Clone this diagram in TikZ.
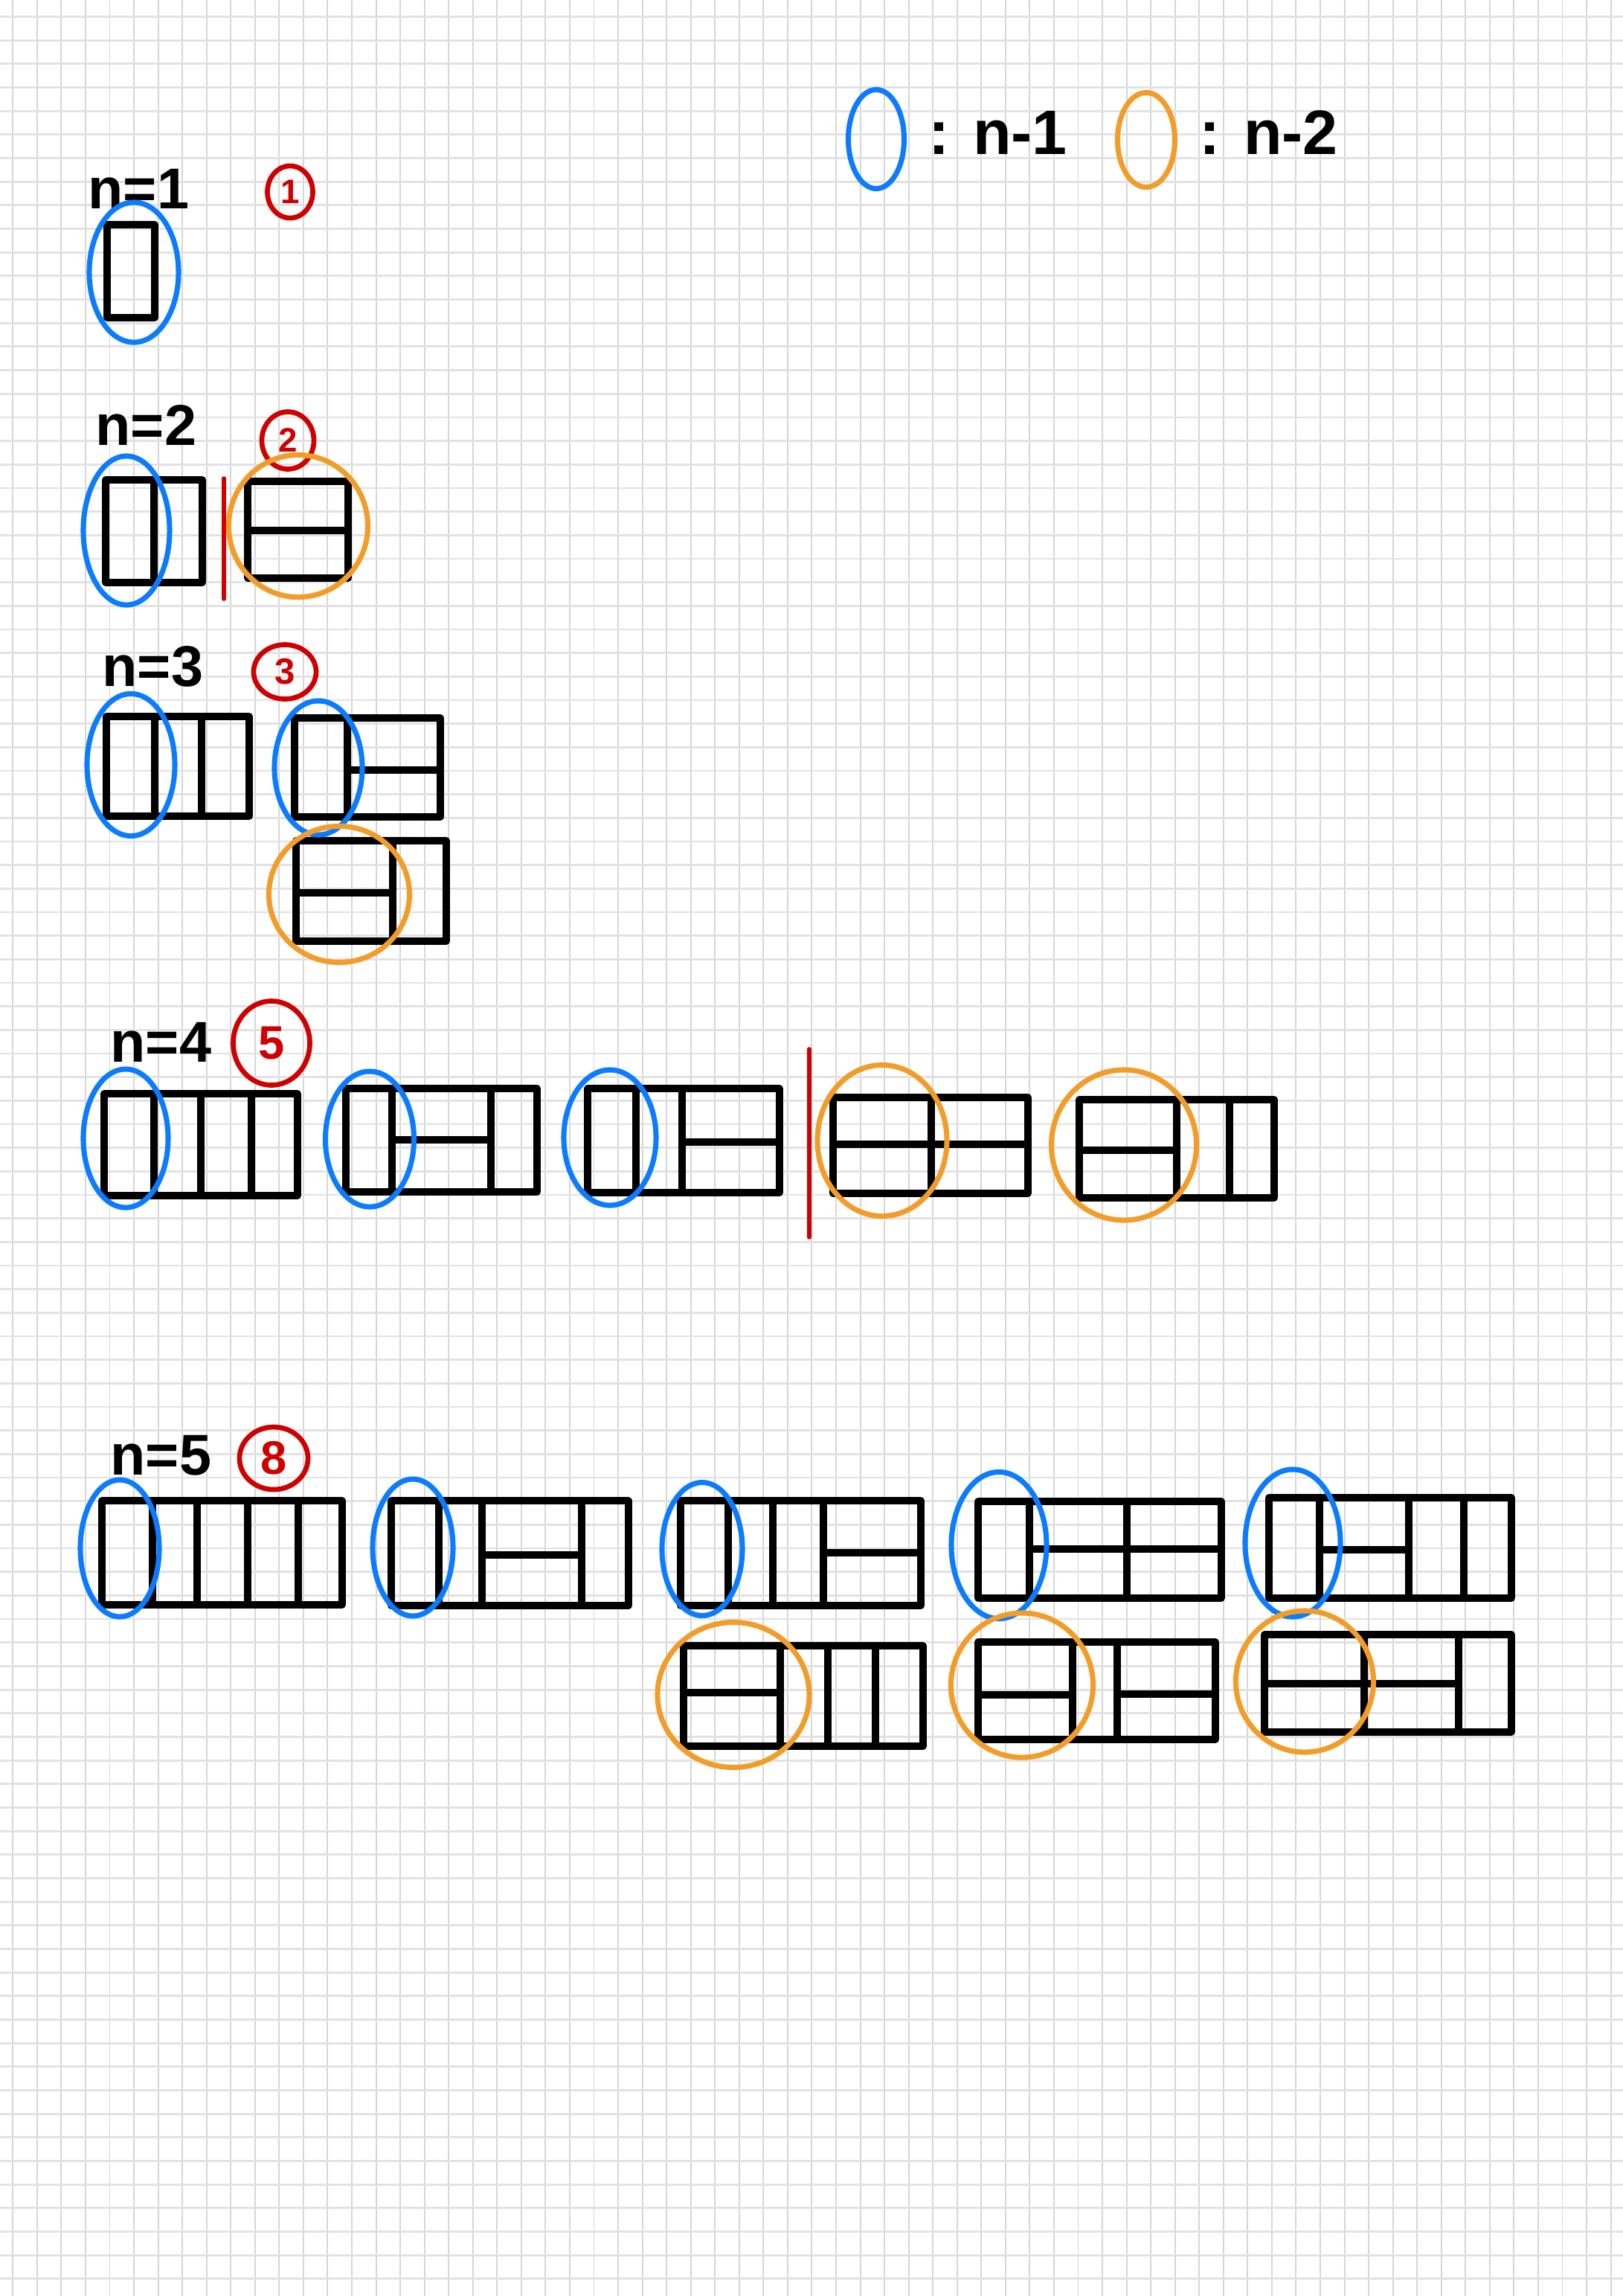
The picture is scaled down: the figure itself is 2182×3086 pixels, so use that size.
\documentclass[tikz,border=0pt]{standalone}
\usepackage{fontspec}
\setmainfont{Liberation Sans}
\usetikzlibrary{shapes.geometric}
\definecolor{penblue}{RGB}{12,124,255}
\definecolor{penorange}{RGB}{242,157,42}
\definecolor{penred}{RGB}{208,0,0}
\definecolor{gridv}{RGB}{214,214,214}
\definecolor{gridh}{RGB}{226,226,226}
\begin{document}
\begin{tikzpicture}[x=0.01cm,y=-0.01cm,
  tile/.style={line width=2.6pt, line cap=round, line join=round, draw=black},
  ovalb/.style={ellipse, draw=penblue, line width=2pt, inner sep=0pt},
  ovalo/.style={ellipse, draw=penorange, line width=2pt, inner sep=0pt},
  ovalr/.style={ellipse, draw=penred, line width=1.9pt, inner sep=0pt, text=penred},
  redline/.style={draw=penred, line width=1.6pt, line cap=round},
  lbl/.style={anchor=base west, inner sep=0pt, font=\bfseries\fontsize{22}{26}\selectfont},
  leg/.style={anchor=base west, inner sep=0pt, font=\bfseries\fontsize{24}{28}\selectfont}]
\useasboundingbox (0,0) rectangle (2182,3086);
\fill[white] (0,0) rectangle (2182,3086);
% grid paper
\foreach \i in {0,...,66} \draw[gridv, line width=0.55pt] ({17.3+32.55*\i},0) -- ({17.3+32.55*\i},3086);
\foreach \j in {0,...,96} \draw[gridh, line width=0.8pt] (0,{22.5+31.67*\j}) -- (2182,{22.5+31.67*\j});

% legend
\node[ovalb, minimum width=0.75cm, minimum height=1.33cm] (legb) at (1178,187) {};
\node[leg] (legbt) at (1248,207) {: n-1};
\node[ovalo, minimum width=0.77cm, minimum height=1.27cm] (lego) at (1541,188) {};
\node[leg] (legot) at (1612,207) {: n-2};

% ---------- n = 1
\node[lbl] (l1) at (118,280) {n=1};
\node[ovalr, minimum width=0.61cm, minimum height=0.70cm, font=\bfseries\fontsize{13}{15}\selectfont] (c1) at (390,258) {1};
\draw[tile] (144,302) rectangle (208,427);
\node[ovalb, minimum width=1.20cm, minimum height=1.88cm] (b11) at (180,366) {};

% ---------- n = 2
\node[lbl] (l2) at (128,598) {n=2};
\node[ovalr, minimum width=0.70cm, minimum height=0.77cm, font=\bfseries\fontsize{13}{15}\selectfont] (c2) at (387,592) {2};
\draw[tile] (142,645) rectangle (272,783) (207,645) -- (207,783);
\draw[redline] (301,643) -- (301,805);
\draw[tile] (333,647) rectangle (468,777) (333,713) -- (468,713);
\node[ovalb, minimum width=1.16cm, minimum height=2.00cm] (b21) at (170,713) {};
\node[ovalo, minimum width=1.87cm, minimum height=1.91cm] (o21) at (401,707) {};

% ---------- n = 3
\node[lbl] (l3) at (137,922) {n=3};
\node[ovalr, minimum width=0.84cm, minimum height=0.73cm, font=\bfseries\fontsize{14}{16}\selectfont] (c3) at (383,903) {3};
\draw[tile] (143,963) rectangle (335,1097) (208,963) -- (208,1097) (271,963) -- (271,1097);
\draw[tile] (396,965) rectangle (592,1098) (467,965) -- (467,1098) (467,1035) -- (592,1035);
\draw[tile] (398,1130) rectangle (600,1265) (528,1130) -- (528,1265) (398,1200) -- (528,1200);
\node[ovalb, minimum width=1.18cm, minimum height=1.91cm] (b31) at (176,1028) {};
\node[ovalb, minimum width=1.18cm, minimum height=1.80cm] (b32) at (428,1032) {};
\node[ovalo, minimum width=1.89cm, minimum height=1.83cm] (o31) at (456,1202) {};

% ---------- n = 4
\node[lbl] (l4) at (148,1427) {n=4};
\node[ovalr, minimum width=1.03cm, minimum height=1.13cm, font=\bfseries\fontsize{18}{20}\selectfont] (c4) at (365,1402) {5};
\draw[tile] (140,1470) rectangle (400,1607) (207,1470) -- (207,1607) (270,1470) -- (270,1607) (338,1470) -- (338,1607);
\draw[tile] (465,1463) rectangle (722,1602) (527,1463) -- (527,1602) (660,1463) -- (660,1602) (527,1532) -- (660,1532);
\draw[tile] (790,1463) rectangle (1048,1603) (855,1463) -- (855,1603) (917,1463) -- (917,1603) (917,1535) -- (1048,1535);
\draw[redline] (1088,1410) -- (1088,1663);
\draw[tile] (1120,1475) rectangle (1382,1604) (1252,1475) -- (1252,1604) (1120,1538) -- (1382,1538);
\draw[tile] (1451,1478) rectangle (1713,1610) (1582,1478) -- (1582,1610) (1653,1478) -- (1653,1610) (1451,1546) -- (1582,1546);
\node[ovalb, minimum width=1.14cm, minimum height=1.86cm] (b41) at (169,1530) {};
\node[ovalb, minimum width=1.19cm, minimum height=1.82cm] (b42) at (497,1531) {};
\node[ovalb, minimum width=1.24cm, minimum height=1.82cm] (b43) at (820,1529) {};
\node[ovalo, minimum width=1.74cm, minimum height=2.03cm] (o41) at (1186,1533) {};
\node[ovalo, minimum width=1.95cm, minimum height=2.02cm] (o42) at (1511,1539) {};

% ---------- n = 5
\node[lbl] (l5) at (148,1982) {n=5};
\node[ovalr, minimum width=0.92cm, minimum height=0.84cm, font=\bfseries\fontsize{18}{20}\selectfont] (c5) at (368,1960) {8};
\draw[tile] (137,2017) rectangle (460,2157) (205,2017) -- (205,2157) (265,2017) -- (265,2157) (333,2017) -- (333,2157) (401,2017) -- (401,2157);
\draw[tile] (526,2017) rectangle (845,2158) (590,2017) -- (590,2158) (648,2017) -- (648,2158) (782,2017) -- (782,2158) (648,2090) -- (782,2090);
\draw[tile] (915,2017) rectangle (1238,2158) (979,2017) -- (979,2158) (1039,2017) -- (1039,2158) (1107,2017) -- (1107,2158) (1107,2087) -- (1238,2087);
\draw[tile] (1315,2018) rectangle (1642,2148) (1384,2018) -- (1384,2148) (1515,2018) -- (1515,2148) (1384,2082) -- (1642,2082);
\draw[tile] (1706,2013) rectangle (2032,2148) (1774,2013) -- (1774,2148) (1894,2013) -- (1894,2148) (1968,2013) -- (1968,2148) (1774,2083) -- (1894,2083);
\draw[tile] (919,2212) rectangle (1241,2347) (1049,2212) -- (1049,2347) (1113,2212) -- (1113,2347) (1177,2212) -- (1177,2347) (919,2275) -- (1049,2275);
\draw[tile] (1315,2207) rectangle (1634,2338) (1442,2207) -- (1442,2338) (1502,2207) -- (1502,2338) (1315,2278) -- (1442,2278) (1502,2277) -- (1634,2277);
\draw[tile] (1700,2197) rectangle (2032,2328) (1834,2197) -- (1834,2328) (1961,2197) -- (1961,2328) (1700,2263) -- (1961,2263);
\node[ovalb, minimum width=1.06cm, minimum height=1.84cm] (b51) at (161,2081) {};
\node[ovalb, minimum width=1.08cm, minimum height=1.84cm] (b52) at (555,2080) {};
\node[ovalb, minimum width=1.08cm, minimum height=1.79cm] (b53) at (944,2082) {};
\node[ovalb, minimum width=1.28cm, minimum height=1.97cm] (b54) at (1343,2077) {};
\node[ovalb, minimum width=1.28cm, minimum height=1.98cm] (b55) at (1738,2074) {};
\node[ovalo, minimum width=2.04cm, minimum height=1.95cm] (o51) at (986,2278) {};
\node[ovalo, minimum width=1.91cm, minimum height=1.94cm] (o52) at (1374,2265) {};
\node[ovalo, minimum width=1.85cm, minimum height=1.90cm] (o53) at (1754,2260) {};
\end{tikzpicture}
\end{document}
